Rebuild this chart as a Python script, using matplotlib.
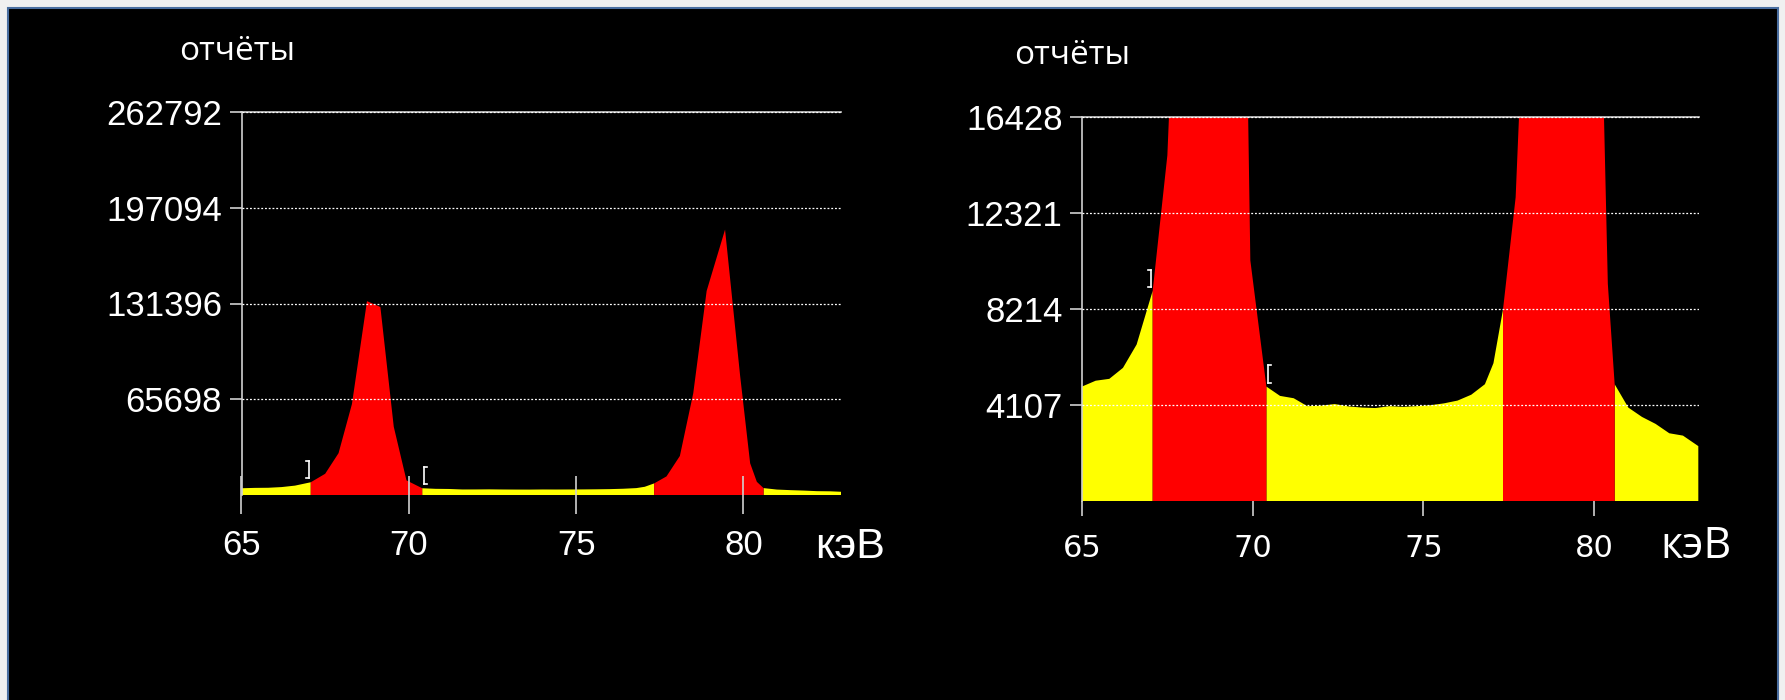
import matplotlib
matplotlib.use('Agg')
import matplotlib.pyplot as plt
from matplotlib.patches import Rectangle
from matplotlib import font_manager

names = set(f.name for f in font_manager.fontManager.ttflist)
NARROW = 'Liberation Sans Narrow' if 'Liberation Sans Narrow' in names else 'Liberation Sans'

# спектр: энергия (кэВ) и число отсчётов
energy = [65.0, 65.4, 65.8, 66.2, 66.6, 67.07, 67.5, 67.9, 68.3, 68.75, 69.15, 69.55, 69.93,
          70.4, 70.8, 71.2, 71.6, 72.0, 72.4, 72.8, 73.2, 73.6, 74.0, 74.4, 74.8, 75.2, 75.6,
          76.0, 76.4, 76.8, 77.05, 77.33, 77.7, 78.1, 78.5, 78.9, 79.45, 79.9, 80.2, 80.4,
          80.6, 81.0, 81.4, 81.8, 82.2, 82.6, 83.05]
counts = [4900, 5150, 5230, 5700, 6700, 9000, 14800, 28900, 62500, 133000, 129000, 47000, 10300,
          4900, 4500, 4400, 4060, 4080, 4150, 4050, 4000, 3980, 4060, 4030, 4060, 4100, 4180,
          4300, 4550, 5000, 5900, 8200, 13000, 27000, 70000, 140000, 182000, 82000, 22000, 9300,
          5000, 4000, 3600, 3300, 2900, 2800, 2350]

# области интереса (ROI)
roi_lo = [67.07, 77.33]
roi_hi = [70.4, 80.6]

yticks_left = [65698, 131396, 197094, 262792]
yticks_right = [4107, 8214, 12321, 16428]
xticks = [65, 70, 75, 80]

W, H = 1785, 700
fig = plt.figure(figsize=(W / 100, H / 100), dpi=100, facecolor='#f0f0f0')
fig.add_artist(Rectangle((8 / W, -0.01), 1770 / W, 1 - 8 / H + 0.01, transform=fig.transFigure,
                         facecolor='black', edgecolor='#4a6ea0', lw=1.5, zorder=0))

axc = '#d0d0d0'


def draw(ax, ymax, yticks, xmax):
    ax.patch.set_alpha(0)
    in_roi = [any(lo <= e <= hi for lo, hi in zip(roi_lo, roi_hi)) for e in energy]
    out_roi = [not r or e in roi_lo or e in roi_hi for e, r in zip(energy, in_roi)]
    ax.fill_between(energy, counts, color='#ffff00', where=out_roi, lw=0)
    ax.fill_between(energy, counts, color='#ff0000', where=in_roi, lw=0)
    ax.set_xlim(65, xmax)
    ax.set_ylim(0, ymax)
    ax.set_yticks(yticks)
    ax.set_xticks(xticks)
    for s in ['right', 'bottom']:
        ax.spines[s].set_visible(False)
    for s in ['left', 'top']:
        ax.spines[s].set_color(axc)
        ax.spines[s].set_linewidth(1.2)
    ax.yaxis.grid(True, color='white', ls=(0, (1.5, 1.5)), lw=0.9)
    ax.set_axisbelow(False)
    ax.tick_params(axis='y', colors=axc, labelcolor='white', length=9, width=1.2, pad=5)
    for t in ax.get_yticklabels():
        t.set_fontfamily(NARROW)
        t.set_fontsize(25)
    # скобки границ первой ROI
    i0 = energy.index(roi_lo[0])
    i1 = energy.index(roi_hi[0])
    dh = 0.045 * ymax
    for x, c, sgn in [(energy[i0] - 0.05, counts[i0], -1), (energy[i1] + 0.05, counts[i1], 1)]:
        c = min(c, ymax)
        b = c + 0.01 * ymax
        ax.plot([x, x], [b, b + dh], color='white', lw=1.2)
        ax.plot([x, x + sgn * 0.08], [b + dh, b + dh], color='white', lw=1.2)
        ax.plot([x, x + sgn * 0.08], [b, b], color='white', lw=1.2)


ax1 = fig.add_axes([241.5 / W, 1 - 495.4 / H, 599 / W, (495.4 - 111.6) / H])
draw(ax1, 262792, yticks_left, 82.9)
ax1.tick_params(axis='x', direction='inout', length=28, width=1.2, colors=axc,
                labelcolor='white', pad=10)
for t in ax1.get_xticklabels():
    t.set_fontfamily(NARROW)
    t.set_fontsize(25)

ax2 = fig.add_axes([1082 / W, 1 - 501 / H, 617 / W, (501 - 117.3) / H])
draw(ax2, 16428, yticks_right, 83.07)
ax2.tick_params(axis='x', direction='out', length=11, width=1.2, colors=axc,
                labelcolor='white', pad=13, labelsize=22)

fig.text(237 / W, 1 - 51 / H, 'отчёты', color='white', fontsize=24, family='Open Sans',
         ha='center', va='center')
fig.text(1072 / W, 1 - 55 / H, 'отчёты', color='white', fontsize=24, family='Open Sans',
         ha='center', va='center')
fig.text(850 / W, 1 - 547 / H, 'кэВ', color='white', fontsize=31, family=NARROW,
         ha='center', va='center')
fig.text(1696 / W, 1 - 547 / H, 'кэВ', color='white', fontsize=31, family='Open Sans',
         ha='center', va='center')

fig.savefig('out.png', dpi=100, facecolor=fig.get_facecolor())
